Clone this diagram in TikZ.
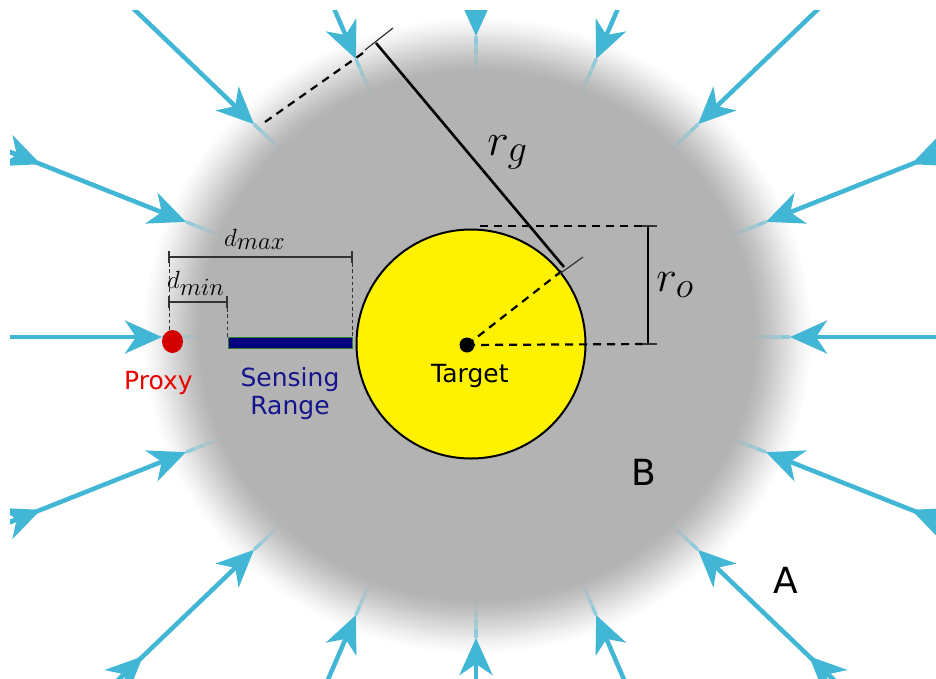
\documentclass[tikz,border=0pt]{standalone}
\usepackage{fontspec}
\setmainfont{DejaVu Sans}
\usetikzlibrary{arrows.meta}
\definecolor{raycol}{RGB}{66,183,213}
\definecolor{halogray}{RGB}{179,179,179}
\definecolor{proxyred}{RGB}{212,0,0}
\definecolor{textred}{RGB}{235,0,0}
\definecolor{sensenavy}{RGB}{0,0,128}
\definecolor{sensetext}{RGB}{20,20,140}
\definecolor{senseedge}{RGB}{40,130,40}
\colorlet{halo82}{halogray!82!white}
\colorlet{halo50}{halogray!50!white}
\colorlet{halo18}{halogray!18!white}
\pgfdeclareradialshading{haloshade}{\pgfpointorigin}{color(0bp)=(halogray); color(20.4bp)=(halogray); color(21.3bp)=(halo82); color(22.5bp)=(halo50); color(23.7bp)=(halo18); color(24.6bp)=(white); color(50bp)=(white)}
\tikzset{
  rayline/.style={raycol, line width=4.5pt},
  rayhead/.style={raycol, line width=4.5pt, -{Stealth[length=37pt,width=33pt,inset=11pt]}},
  thinline/.style={line width=1.2pt, black!80},
  thindash/.style={line width=1pt, black!80, dash pattern=on 3.5pt off 2.8pt},
  bigdash/.style={line width=2.2pt, black, dash pattern=on 8pt off 6pt},
  solidmeas/.style={line width=2.6pt, black},
  lab/.style={font=\fontsize{25}{30}\selectfont, inner sep=0pt},
  biglab/.style={font=\fontsize{36}{40}\selectfont, inner sep=0pt},
  mathlab/.style={font=\fontsize{24.88}{30}\selectfont, inner sep=0pt, anchor=base west},
}
\begin{document}
\begin{tikzpicture}[x=1pt,y=-1pt]
\fill[white] (0,0) rectangle (936,678);
\useasboundingbox (0,0) rectangle (936,678);

% blurred gray region
\shade[shading=haloshade] (477,335) ellipse [x radius=340pt, y radius=324pt];

% incoming rays
\begin{scope}
\clip (10,10) rectangle (936,678);
\foreach \a in {0,22.5,...,337.5}{
  \coordinate (pb) at ({476+314*cos(\a)},{337-301*sin(\a)});
  \coordinate (pc) at ({476+2.6*314*cos(\a)},{337-2.6*301*sin(\a)});
  \draw[rayhead] (pc) -- (pb);
  \foreach \s/\o in {1.0/0.5,0.97/0.32,0.94/0.18,0.91/0.07}{
    \draw[rayline, line width=3.5pt, draw opacity=\o]
      ({476+\s*314*cos(\a)},{337-\s*301*sin(\a)}) --
      ({476+(\s-0.03)*314*cos(\a)},{337-(\s-0.03)*301*sin(\a)});
  }
}
\foreach \a in {22.5,157.5,202.5,225,315,337.5}{
  \coordinate (qa) at ({476+1.5*314*cos(\a)},{337-1.5*301*sin(\a)});
  \coordinate (qb) at ({476+1.62*314*cos(\a)},{337-1.62*301*sin(\a)});
  \draw[rayhead] (qb) -- (qa);
}
\end{scope}

% target
\coordinate (tc) at (471,344);
\draw[line width=2pt, fill=yellow] (tc) circle [radius=114.5pt];
\coordinate (dot) at (467,345);
\fill[black] (dot) circle [radius=7.5pt];
\node[lab, anchor=base west] (tgt) at (431,382) {Target};

% r_o dimension
\coordinate (roB) at (648,344);
\coordinate (roT) at (648,226);
\coordinate (roL) at (480,226);
\draw[bigdash] (dot) -- (roB);
\draw[bigdash] (roL) -- (roT);
\draw[solidmeas] (roT) -- (roB);
\draw[thinline] (642,226) -- (657,226);
\draw[thinline] (642,344) -- (657,344);
\node[mathlab, scale=1.77] (ro) at (656,291) {$r_o$};

% r_g dimension
\coordinate (rgA) at (564,267);
\coordinate (rgB) at (376,43);
\coordinate (edge) at (563,270);
\draw[bigdash] (dot) -- (edge);
\draw[thinline] (558,275) -- (583,257);
\draw[solidmeas] (rgA) -- (rgB);
\draw[thinline] (365,50) -- (393,28);
\draw[bigdash] (265,122) -- (363,53);
\node[mathlab, scale=1.85] (rg) at (487,155) {$r_g$};

% proxy
\coordinate (px) at (172.5,341.5);
\fill[proxyred] (px) ellipse [x radius=10.5pt, y radius=11.5pt];
\node[lab, textred, anchor=base west] (proxy) at (124,389) {Proxy};

% sensing range bar
\coordinate (s1) at (228,337);
\coordinate (s2) at (352,348);
\draw[senseedge, line width=0.8pt, fill=sensenavy] (s1) rectangle (s2);
\node[lab, sensetext, anchor=base] (sens) at (290,386) {Sensing};
\node[lab, sensetext, anchor=base] (rang) at (290,414) {Range};

% d_min / d_max
\coordinate (dA) at (169,257);
\coordinate (dB) at (352,257);
\coordinate (dC) at (169,302);
\coordinate (dD) at (227,302);
\draw[thinline] (dA) -- (dB);
\draw[thinline] (169,251) -- (169,263);
\draw[thinline] (352,251) -- (352,263);
\draw[thinline] (dC) -- (dD);
\draw[thinline] (169,296) -- (169,308);
\draw[thinline] (227,296) -- (227,308);
\draw[thindash] (169,263) -- (169,330);
\draw[thindash] (227,308) -- (227,337);
\draw[thindash] (352,263) -- (352,337);
\node[anchor=base west, inner sep=0pt] (dmax) at (224,246) {\fontsize{24.88}{30}\selectfont $d_{\mbox{\fontsize{23}{26}\selectfont$max$}}$};
\node[anchor=base west, inner sep=0pt] (dmin) at (167,288) {\fontsize{24.88}{30}\selectfont $d_{\mbox{\fontsize{23}{26}\selectfont$min$}}$};

% region labels
\node[biglab, anchor=base west] (B) at (631,485) {B};
\node[biglab, anchor=base west] (A) at (773,593) {A};
\end{tikzpicture}
\end{document}
